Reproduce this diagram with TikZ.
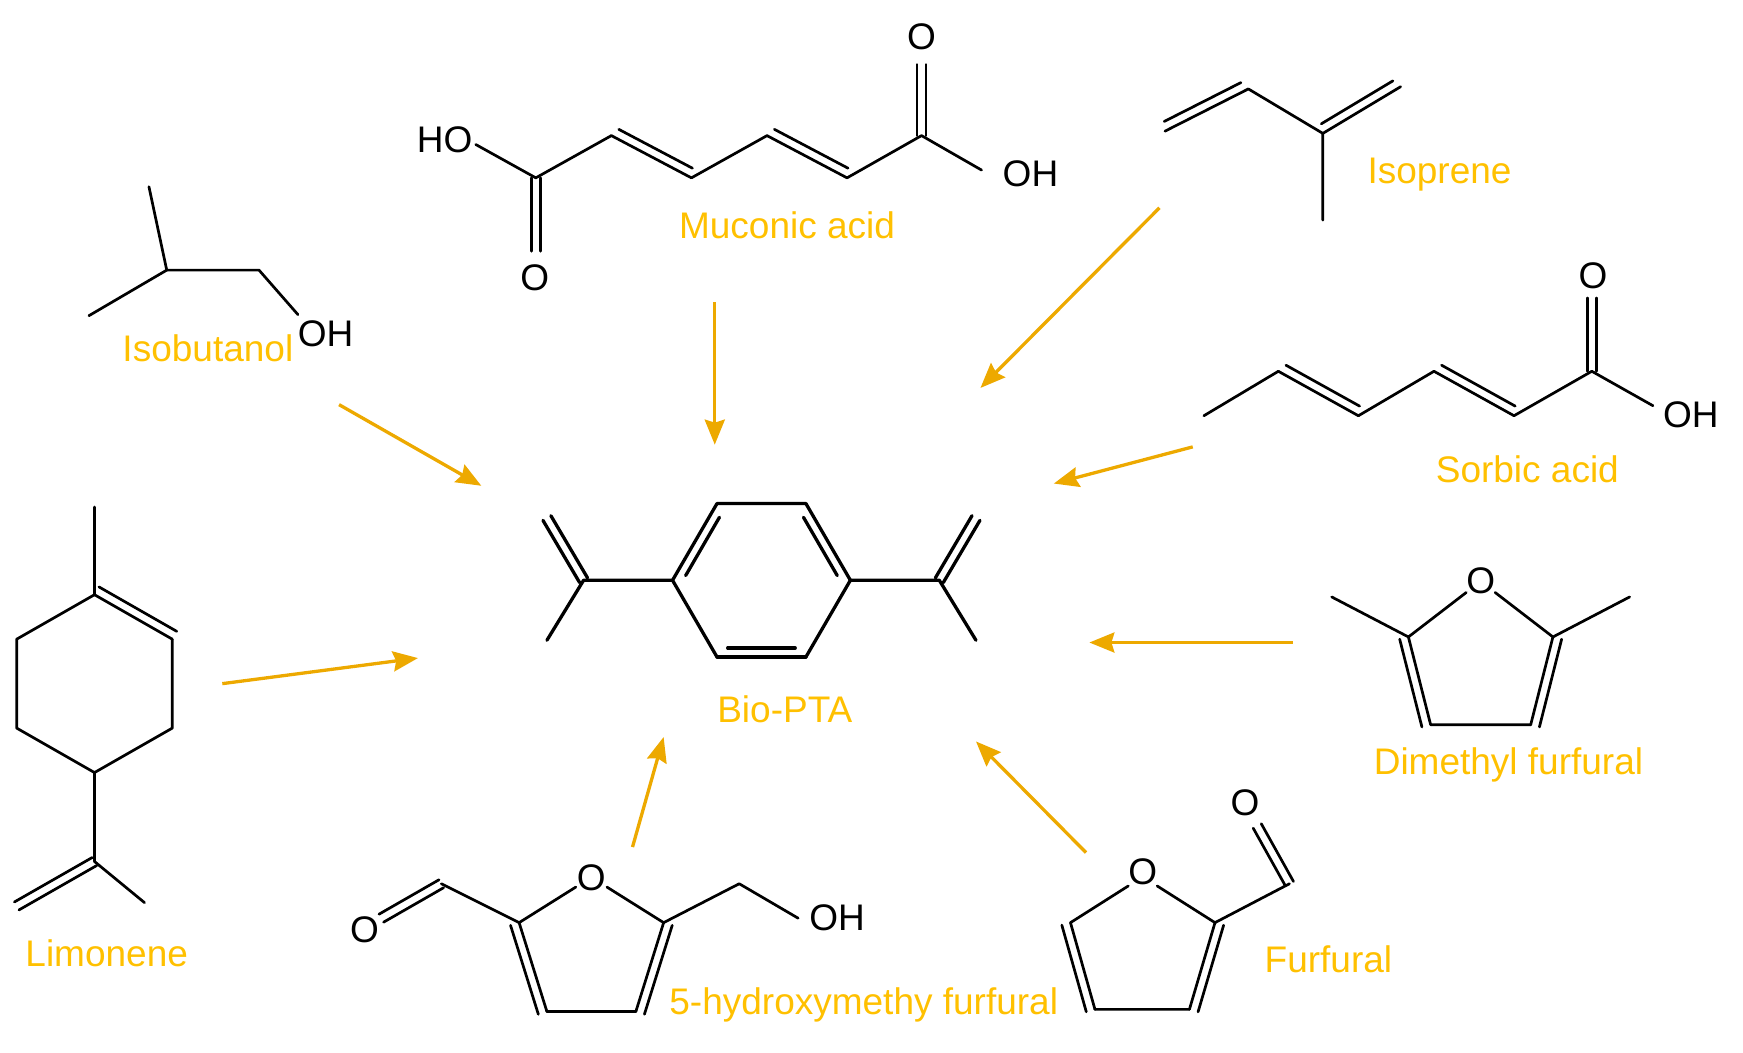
\documentclass[tikz,border=0pt]{standalone}
\usepackage{fontspec}
\setmainfont{Liberation Sans}
\usetikzlibrary{calc,arrows.meta}
\definecolor{labcol}{HTML}{FFC000}
\definecolor{arrcol}{HTML}{EDA900}
\def\dgap{9pt}
\def\cgap{4.6pt}
% main bond + parallel line on the left of a->b
\newcommand\dbL[3]{%
  \draw[bond] (#1)--(#2);
  \path ($(#1)!#3!(#2)$) coordinate (tA) ($(#2)!#3!(#1)$) coordinate (tB);
  \draw[bond] ($(tA)!\dgap!90:(tB)$) -- ($(tB)!\dgap!-90:(tA)$);}
% main bond + parallel line on the right of a->b
\newcommand\dbR[3]{%
  \draw[bond] (#1)--(#2);
  \path ($(#1)!#3!(#2)$) coordinate (tA) ($(#2)!#3!(#1)$) coordinate (tB);
  \draw[bond] ($(tA)!\dgap!-90:(tB)$) -- ($(tB)!\dgap!90:(tA)$);}
% centred double bond
\newcommand\dbC[2]{%
  \draw[bond] ($(#1)!\cgap!90:(#2)$) -- ($(#2)!\cgap!-90:(#1)$);
  \draw[bond] ($(#1)!\cgap!-90:(#2)$) -- ($(#2)!\cgap!90:(#1)$);}
\begin{document}
\begin{tikzpicture}[x=1.1116pt,y=-1.1116pt,
  bond/.style={line width=2.7pt, line cap=round, line join=round},
  atom/.style={font=\fontsize{37}{40}\selectfont, inner sep=0pt},
  cname/.style={text=labcol, font=\fontsize{37}{40}\selectfont, inner sep=0pt},
  rx/.style={draw=arrcol, line width=3.3pt, -{Stealth[length=25pt,width=20pt,inset=3pt]}}]
\useasboundingbox (0,0) rectangle (1568,946.4);

% ---------------- Muconic acid
\coordinate (m1) at (482,160); \coordinate (m2) at (550,122);
\coordinate (m3) at (622,160); \coordinate (m4) at (690,122);
\coordinate (m5) at (762,160); \coordinate (m6) at (829,122);
\coordinate (mho) at (428,130); \coordinate (mo1) at (482,226);
\coordinate (mo2) at (829,58);  \coordinate (moh) at (883,153);
\node[atom] (mHO) at (400,126) {HO};
\node[atom] (mO1) at (481,250) {O};
\node[atom] (mO2) at (829,33) {O};
\node[atom] (mOH) at (927,156) {OH};
\node[cname] (mname) at (708,203) {Muconic acid};
\draw[bond] (mho)--(m1)--(m2);
\dbL{m2}{m3}{0.04}
\draw[bond] (m3)--(m4);
\dbL{m4}{m5}{0.04}
\draw[bond] (m5)--(m6)--(moh);
\dbC{m1}{mo1}
\dbC{m6}{mo2}

% ---------------- Isoprene
\coordinate (i1) at (1048,118); \coordinate (i2) at (1123,80);
\coordinate (i3) at (1190,120); \coordinate (i4) at (1260,78);
\coordinate (i5) at (1190,198);
\dbL{i1}{i2}{0.04}
\draw[bond] (i2)--(i3)--(i5);
\dbL{i3}{i4}{0.04}
\node[cname] (iname) at (1295,157) {Isoprene};

% ---------------- Isobutanol
\coordinate (b1) at (134,168); \coordinate (b2) at (150,243);
\coordinate (b3) at (80,284);  \coordinate (b4) at (233,243);
\coordinate (b5) at (268,283);
\draw[bond] (b1)--(b2)--(b4)--(b5);
\draw[bond] (b3)--(b2);
\node[atom] (bOH) at (293,300) {OH};
\node[cname] (bname) at (187,313) {Isobutanol};

% ---------------- Sorbic acid
\coordinate (s1) at (1083,374); \coordinate (s2) at (1150,334);
\coordinate (s3) at (1222,374); \coordinate (s4) at (1290,334);
\coordinate (s5) at (1362,374); \coordinate (s6) at (1432,334);
\coordinate (so) at (1432,268); \coordinate (soh) at (1487,365);
\draw[bond] (s1)--(s2);
\dbL{s2}{s3}{0.04}
\draw[bond] (s3)--(s4);
\dbL{s4}{s5}{0.04}
\draw[bond] (s5)--(s6)--(soh);
\dbC{s6}{so}
\node[atom] (sO) at (1433,248) {O};
\node[atom] (sOH) at (1521,373) {OH};
\node[cname] (sname) at (1374,422) {Sorbic acid};

% ---------------- Bio-PTA (drawn a little heavier)
\begin{scope}[bond/.style={line width=3.3pt, line cap=round, line join=round}]
\coordinate (p1) at (645,453); \coordinate (p2) at (725,453);
\coordinate (p3) at (765,522); \coordinate (p4) at (725,591);
\coordinate (p5) at (645,591); \coordinate (p6) at (605,522);
\coordinate (pl) at (525,522); \coordinate (pl1) at (492,466); \coordinate (pl2) at (492,576);
\coordinate (pr) at (845,522); \coordinate (pr1) at (878,466); \coordinate (pr2) at (878,576);
\draw[bond] (p1)--(p2) (p3)--(p4) (p5)--(p6);
\dbR{p6}{p1}{0.12}
\dbR{p2}{p3}{0.12}
\dbR{p4}{p5}{0.12}
\draw[bond] (pl2)--(pl)--(p6) (p3)--(pr)--(pr2);
\dbC{pl}{pl1}
\dbC{pr}{pr1}
\end{scope}
\node[cname] (pname) at (706,638) {Bio-PTA};

% ---------------- Limonene
\coordinate (l1) at (85,535);  \coordinate (l2) at (155,575);
\coordinate (l3) at (155,655); \coordinate (l4) at (85,695);
\coordinate (l5) at (15,655);  \coordinate (l6) at (15,575);
\coordinate (lm) at (85,456);  \coordinate (lc) at (85,775);
\coordinate (lc1) at (15,815); \coordinate (lc2) at (130,812);
\draw[bond] (lm)--(l1) (l2)--(l3)--(l4)--(l5)--(l6)--(l1);
\dbL{l1}{l2}{0.0}
\draw[bond] (l4)--(lc)--(lc2);
\dbC{lc}{lc1}
\node[cname] (lname) at (96,858) {Limonene};

% ---------------- 5-hydroxymethyl furfural
\coordinate (h2) at (467,830); \coordinate (h5) at (597,830);
\coordinate (h4) at (572,910); \coordinate (h3) at (492,910);
\coordinate (ho2) at (518,798); \coordinate (ho5) at (546,798);
\coordinate (hc) at (397,795); \coordinate (hco) at (343,826);
\coordinate (hch) at (665,795); \coordinate (hoh) at (718,826);
\node[atom] (hO) at (532,790) {O};
\node[atom] (hOc) at (328,836) {O};
\node[atom] (hOH) at (753,826) {OH};
\draw[bond] (h2)--(ho2) (ho5)--(h5) (h3)--(h4);
\dbR{h2}{h3}{0.0}
\dbL{h5}{h4}{0.0}
\draw[bond] (h2)--(hc) (h5)--(hch)--(hoh);
\dbC{hc}{hco}
\node[cname] (hname) at (777,904) {5-hydroxymethy furfural};

% ---------------- Dimethyl furfural
\coordinate (d2) at (1267,573); \coordinate (d5) at (1397,573);
\coordinate (d3) at (1287,652); \coordinate (d4) at (1377,652);
\coordinate (do2) at (1319,533); \coordinate (do5) at (1345,533);
\coordinate (dm2) at (1198,537); \coordinate (dm5) at (1466,537);
\node[atom] (dO) at (1332,522) {O};
\draw[bond] (d2)--(do2) (do5)--(d5) (d3)--(d4) (dm2)--(d2) (d5)--(dm5);
\dbR{d2}{d3}{0.0}
\dbL{d5}{d4}{0.0}
\node[cname] (dname) at (1357,688) {Dimethyl furfural};

% ---------------- Furfural
\coordinate (f5) at (963,830); \coordinate (f2) at (1093,830);
\coordinate (f4) at (985,908); \coordinate (f3) at (1070,908);
\coordinate (fo5) at (1015,797); \coordinate (fo2) at (1041,797);
\coordinate (fc) at (1160,795); \coordinate (fco) at (1131,743);
\node[atom] (fO) at (1028,784) {O};
\node[atom] (fOc) at (1120,722) {O};
\draw[bond] (f5)--(fo5) (fo2)--(f2) (f4)--(f3) (f2)--(fc);
\dbR{f5}{f4}{0.0}
\dbL{f2}{f3}{0.0}
\dbC{fc}{fco}
\node[cname] (fname) at (1195,863) {Furfural};

% ---------------- Arrows
\coordinate (a1s) at (643,272);  \coordinate (a1e) at (643,400);
\coordinate (a2s) at (1043,187); \coordinate (a2e) at (882,349);
\coordinate (a3s) at (305,364);  \coordinate (a3e) at (433,437);
\coordinate (a4s) at (1073,402); \coordinate (a4e) at (948,435);
\coordinate (a5s) at (200,615);  \coordinate (a5e) at (376,592);
\coordinate (a6s) at (1163,578); \coordinate (a6e) at (980,578);
\coordinate (a7s) at (569,762);  \coordinate (a7e) at (597,663);
\coordinate (a8s) at (977,767);  \coordinate (a8e) at (878,667);
\foreach \k in {1,...,8} {\draw[rx] (a\k s) -- (a\k e);}
\end{tikzpicture}
\end{document}
